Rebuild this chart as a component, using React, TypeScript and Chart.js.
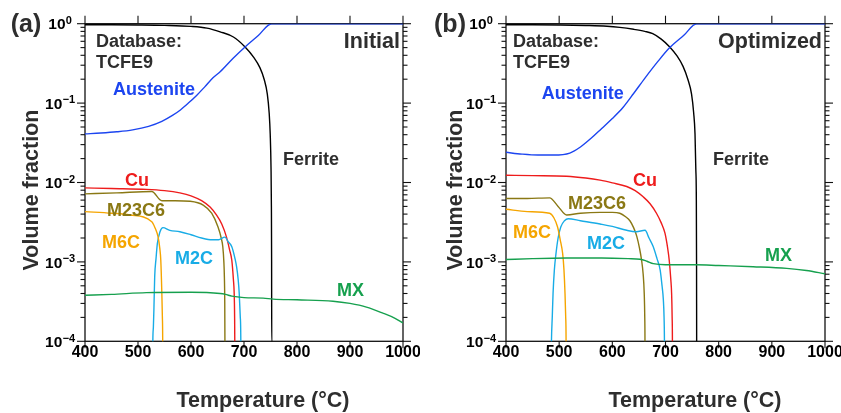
import React, { useEffect, useRef } from 'react';
import { Chart, registerables } from 'chart.js';

Chart.register(...registerables);

const FONT = '"Liberation Sans", Arimo, Arial, Helvetica, sans-serif';

// ---- axis ticks / text ----
const tempTicks = [400, 500, 600, 700, 800, 900, 1000];
const decadeExponents = [0, -1, -2, -3, -4];
const databaseLines = ['Database:', 'TCFE9'];
const xTitle = 'Temperature (°C)';
const yTitle = 'Volume fraction';

// ---- panel (a) Initial : [temperature °C, volume fraction] ----
const ferriteA = [[400, 0.97], [450, 0.968], [500, 0.963], [550, 0.952], [600, 0.925], [630, 0.88], [655, 0.79], [680, 0.68], [702, 0.51], [718, 0.38], [730, 0.28], [738, 0.2], [744, 0.13], [747.5, 0.075], [749.5, 0.04], [751, 0.015], [751.7, 0.005], [752.1, 0.001], [752.3, 0.0001], [752.3, 0.00005]];
const austeniteA = [[400, 0.041], [430, 0.042], [460, 0.0435], [490, 0.046], [520, 0.051], [545, 0.059], [565, 0.07], [580, 0.082], [595, 0.1], [611, 0.126], [626, 0.16], [642, 0.21], [655, 0.248], [680, 0.37], [702, 0.51], [727, 0.71], [752, 1.0], [1000, 1.0]];
const cuA = [[400, 0.00855], [450, 0.0084], [516, 0.0082], [550, 0.0079], [579, 0.0074], [600, 0.0068], [620, 0.0059], [636, 0.0049], [648, 0.0039], [658, 0.003], [667, 0.00205], [673, 0.0014], [677, 0.00105], [680, 0.0006], [681.5, 0.0004], [682.3, 0.0002], [682.6, 0.0001], [682.7, 0.00005]];
const m23c6A = [[400, 0.0072], [460, 0.0074], [526, 0.0077], [545, 0.0059], [570, 0.0059], [598, 0.0058], [623, 0.0052], [639, 0.0041], [651, 0.00275], [657, 0.002], [660, 0.00155], [662, 0.001], [663, 0.00064], [663.7, 0.0003], [664, 0.0001], [664.1, 0.00005]];
const m6cA = [[400, 0.0043], [450, 0.0041], [485, 0.0039], [526, 0.0032], [532, 0.0027], [538, 0.00205], [541, 0.0015], [543, 0.00105], [545, 0.0004], [546, 0.0002], [546.6, 0.0001], [546.7, 0.00005]];
const m2cA = [[527.7, 0.00005], [528, 0.0001], [529, 0.00015], [530, 0.00025], [531.5, 0.00065], [534, 0.0011], [536.5, 0.0017], [541.5, 0.0024], [547, 0.0027], [560, 0.0025], [579, 0.0024], [600, 0.0022], [620, 0.002], [640, 0.0019], [652, 0.0019], [664, 0.00205], [670, 0.0018], [677, 0.00155], [683, 0.0011], [686, 0.00087], [689, 0.0006], [691, 0.0004], [693, 0.0002], [694, 0.0001], [694.1, 0.00005]];
const mxA = [[400, 0.00038], [450, 0.00039], [516, 0.00041], [600, 0.000415], [655, 0.0004], [665, 0.00039], [677, 0.00037], [700, 0.000355], [736, 0.00035], [755, 0.00034], [800, 0.000333], [868, 0.00032], [900, 0.0003], [931, 0.00027], [963, 0.000225], [985, 0.000195], [1000, 0.00017]];

// ---- panel (b) Optimized ----
const ferriteB = [[400, 0.97], [450, 0.968], [500, 0.962], [550, 0.95], [590, 0.93], [614, 0.9], [640, 0.85], [661, 0.8], [676, 0.75], [692, 0.64], [708, 0.51], [722, 0.39], [733, 0.29], [742, 0.2], [749, 0.13], [753, 0.075], [755.5, 0.041], [757, 0.015], [758, 0.006], [758.4, 0.001], [758.6, 0.0001], [758.7, 0.00005]];
const austeniteB = [[400, 0.024], [430, 0.0228], [460, 0.0222], [490, 0.0222], [520, 0.0235], [540, 0.028], [560, 0.036], [580, 0.048], [600, 0.064], [620, 0.088], [640, 0.132], [661, 0.205], [685, 0.33], [708, 0.5], [735, 0.72], [758.5, 1.0], [1000, 1.0]];
const cuB = [[400, 0.01236], [450, 0.0122], [514, 0.012], [550, 0.0114], [577, 0.0107], [600, 0.0099], [627, 0.0089], [643, 0.0079], [658, 0.0066], [671, 0.0054], [683, 0.0041], [692, 0.0031], [699, 0.0023], [704, 0.0015], [707, 0.00105], [710, 0.0006], [711.5, 0.0004], [712.5, 0.0002], [713, 0.0001], [713.1, 0.00005]];
const m23c6B = [[400, 0.0063], [440, 0.0063], [482, 0.0064], [498, 0.005], [514, 0.0039], [540, 0.0041], [577, 0.0042], [600, 0.0042], [614, 0.0041], [625, 0.0037], [633, 0.0033], [640, 0.0027], [646, 0.0021], [651, 0.0015], [655, 0.00105], [658, 0.0007], [660, 0.0004], [661, 0.0002], [661.4, 0.0001], [661.5, 0.00005]];
const m6cB = [[400, 0.0046], [440, 0.0043], [482, 0.0041], [490, 0.0036], [497, 0.00275], [502, 0.0019], [506.6, 0.00127], [509, 0.0008], [511, 0.0004], [512.3, 0.0002], [513, 0.0001], [513.1, 0.00005]];
const m2cB = [[485, 0.00005], [485.5, 0.0001], [487, 0.0002], [488.5, 0.0004], [491, 0.0008], [494, 0.00127], [498, 0.002], [503, 0.00275], [510, 0.0033], [517, 0.0035], [540, 0.0033], [577, 0.003], [600, 0.0028], [627, 0.0025], [645, 0.0024], [661.5, 0.0025], [669, 0.002], [677, 0.00155], [684, 0.0011], [690, 0.00079], [693.5, 0.0005], [696, 0.00033], [697.3, 0.0002], [698, 0.0001], [698.2, 0.00005]];
const mxB = [[400, 0.00107], [450, 0.0011], [514, 0.00112], [580, 0.00112], [630, 0.0011], [652, 0.00108], [665, 0.00102], [677, 0.00095], [700, 0.00092], [758, 0.00092], [800, 0.0009], [865, 0.00087], [928, 0.00083], [965, 0.00078], [1000, 0.00071]];

const COLORS: Record<string, string> = {
  Ferrite: '#000000',
  Austenite: '#1c45f0',
  Cu: '#ee1c1c',
  M23C6: '#8a7814',
  M6C: '#f5a500',
  M2C: '#18ace6',
  MX: '#16a04e',
};
const TEXT_DARK = '#2e2e2e';

type Cfg = {
  offset: number;
  width: number;
  pad: { left: number; right: number; top: number; bottom: number };
  tag: string;
  tagX: number;
  scenario: string;
  dbX: number;
  yTitleX: number;
  xTitleX: number;
  series: [string, number[][]][];
  labels: Record<string, [number, number]>;
};

const PANELS: Cfg[] = [
  {
    offset: 0,
    width: 420,
    pad: { left: 85, right: 17, top: 23.7, bottom: 71.7 },
    tag: '(a)',
    tagX: 26,
    scenario: 'Initial',
    dbX: 96,
    yTitleX: 38,
    xTitleX: 263,
    series: [['MX', mxA], ['M6C', m6cA], ['M2C', m2cA], ['M23C6', m23c6A], ['Cu', cuA], ['Austenite', austeniteA], ['Ferrite', ferriteA]],
    labels: { Austenite: [113, 89], Ferrite: [283, 159], Cu: [125, 180], M23C6: [107, 210], M6C: [102, 242], M2C: [175, 258], MX: [337, 290] },
  },
  {
    offset: 420,
    width: 421,
    pad: { left: 86, right: 16, top: 23.7, bottom: 71.7 },
    tag: '(b)',
    tagX: 30,
    scenario: 'Optimized',
    dbX: 93,
    yTitleX: 42,
    xTitleX: 275,
    series: [['MX', mxB], ['M6C', m6cB], ['M2C', m2cB], ['M23C6', m23c6B], ['Cu', cuB], ['Austenite', austeniteB], ['Ferrite', ferriteB]],
    labels: { Austenite: [121.7, 93], Ferrite: [293, 159], Cu: [213, 180], M23C6: [148, 203], M6C: [93, 232], M2C: [167, 243], MX: [345, 255] },
  },
];

function capText(ctx: CanvasRenderingContext2D, text: string, x: number, yc: number, size: number, align: CanvasTextAlign, color: string) {
  ctx.font = `bold ${size}px ${FONT}`;
  ctx.textAlign = align;
  ctx.textBaseline = 'alphabetic';
  ctx.fillStyle = color;
  ctx.fillText(text, x, yc + 0.358 * size);
}

function makePlugin(cfg: Cfg) {
  const line = (ctx: CanvasRenderingContext2D, x1: number, y1: number, x2: number, y2: number) => {
    ctx.beginPath();
    ctx.moveTo(x1, y1);
    ctx.lineTo(x2, y2);
    ctx.stroke();
  };
  return {
    id: 'phaseFrame',
    beforeDatasetsDraw(chart: any) {
      const { ctx, chartArea: a, scales } = chart;
      const xs = scales.x;
      const ys = scales.y;
      ctx.save();
      ctx.strokeStyle = '#111111';
      ctx.lineWidth = 1.3;
      ctx.strokeRect(a.left, a.top, a.right - a.left, a.bottom - a.top);
      ctx.lineWidth = 1.1;
      for (const t of tempTicks) {
        const px = xs.getPixelForValue(t);
        line(ctx, px, a.top, px, a.top - 8);
        line(ctx, px, a.bottom, px, a.bottom + 7);
      }
      for (const e of decadeExponents) {
        const py = ys.getPixelForValue(Math.pow(10, e));
        line(ctx, a.left, py, a.left - 8, py);
        line(ctx, a.right, py, a.right + 8, py);
        if (e < 0) {
          for (let k = 2; k <= 9; k++) {
            const pm = ys.getPixelForValue(k * Math.pow(10, e));
            line(ctx, a.left, pm, a.left - 4.5, pm);
            line(ctx, a.right, pm, a.right + 4.5, pm);
          }
        }
      }
      ctx.restore();
    },
    afterDatasetsDraw(chart: any) {
      const { ctx, chartArea: a, scales } = chart;
      const xs = scales.x;
      const ys = scales.y;
      ctx.save();
      // x tick labels
      ctx.font = `bold 16px ${FONT}`;
      ctx.textAlign = 'center';
      ctx.textBaseline = 'alphabetic';
      ctx.fillStyle = '#000';
      for (const t of tempTicks) {
        ctx.fillText(String(t), xs.getPixelForValue(t), a.bottom + 16);
      }
      // y tick labels 10^e
      for (const e of decadeExponents) {
        const py = ys.getPixelForValue(Math.pow(10, e));
        const sup = e === 0 ? '0' : '\u2212' + String(-e);
        ctx.font = `bold 15.5px ${FONT}`;
        const wBase = ctx.measureText('10').width;
        ctx.font = `bold 11px ${FONT}`;
        const wSup = ctx.measureText(sup).width;
        const cx = a.left - 25;
        const x0 = cx - (wBase + wSup) / 2;
        ctx.textAlign = 'left';
        ctx.fillStyle = '#000';
        ctx.font = `bold 15.5px ${FONT}`;
        ctx.fillText('10', x0, py + 5.6);
        ctx.font = `bold 11px ${FONT}`;
        ctx.fillText(sup, x0 + wBase + 0.3, py + 0.2);
      }
      // axis titles
      capText(ctx, xTitle, cfg.xTitleX, 399, 21.5, 'center', TEXT_DARK);
      ctx.save();
      ctx.translate(cfg.yTitleX, 190);
      ctx.rotate(-Math.PI / 2);
      ctx.font = `bold 21.5px ${FONT}`;
      ctx.textAlign = 'center';
      ctx.textBaseline = 'alphabetic';
      ctx.fillStyle = TEXT_DARK;
      ctx.fillText(yTitle, 0, 0);
      ctx.restore();
      // panel tag
      ctx.font = `bold 25px ${FONT}`;
      ctx.textAlign = 'center';
      ctx.fillStyle = TEXT_DARK;
      ctx.fillText(cfg.tag, cfg.tagX, 31.5);
      // database + scenario
      capText(ctx, databaseLines[0], cfg.dbX, 40.5, 18, 'left', TEXT_DARK);
      capText(ctx, databaseLines[1], cfg.dbX, 62, 18, 'left', TEXT_DARK);
      capText(ctx, cfg.scenario, a.right - 3, 40.5, 21.5, 'right', TEXT_DARK);
      // phase labels
      for (const name of Object.keys(cfg.labels)) {
        const [lx, ly] = cfg.labels[name];
        capText(ctx, name, lx, ly, 18, 'left', name === 'Ferrite' ? TEXT_DARK : COLORS[name]);
      }
      ctx.restore();
    },
  };
}

function Panel({ cfg }: { cfg: Cfg }) {
  const ref = useRef<HTMLCanvasElement | null>(null);
  useEffect(() => {
    const canvas = ref.current;
    if (!canvas) return;
    const chart = new Chart(canvas, {
      type: 'scatter',
      data: {
        datasets: cfg.series.map(([name, pts]) => ({
          label: name,
          data: pts.map(([t, v]) => ({ x: t, y: v })),
          showLine: true,
          borderColor: COLORS[name],
          backgroundColor: COLORS[name],
          borderWidth: 1.4,
          pointRadius: 0,
          pointHoverRadius: 0,
          cubicInterpolationMode: 'monotone',
          fill: false,
        })),
      },
      options: {
        responsive: false,
        maintainAspectRatio: false,
        animation: false,
        devicePixelRatio: 1,
        layout: { padding: cfg.pad },
        scales: {
          x: { type: 'linear', min: 400, max: 1000, display: false },
          y: { type: 'logarithmic', min: 1e-4, max: 1, display: false },
        },
        plugins: {
          legend: { display: false },
          tooltip: { enabled: false },
        },
        events: [],
      } as any,
      plugins: [makePlugin(cfg)],
    } as any);
    return () => chart.destroy();
  }, [cfg]);
  return (
    <canvas
      ref={ref}
      width={cfg.width}
      height={413}
      style={{ position: 'absolute', left: cfg.offset, top: 0, width: cfg.width, height: 413 }}
    />
  );
}

export default function App() {
  return (
    <div style={{ position: 'absolute', left: 0, top: 0, width: 841, height: 413, background: '#fff', overflow: 'hidden' }}>
      {PANELS.map((p) => (
        <Panel key={p.tag} cfg={p} />
      ))}
    </div>
  );
}
